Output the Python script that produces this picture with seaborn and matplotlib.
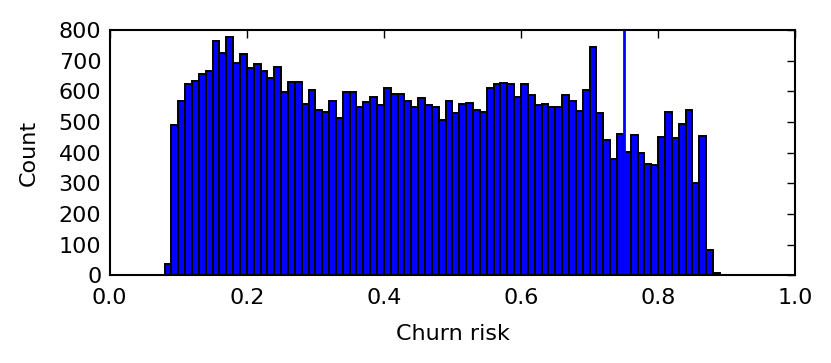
import numpy as np
import pandas as pd
import matplotlib
matplotlib.use("Agg")
import matplotlib.pyplot as plt
import seaborn as sns

bin_start = 0.08
bin_width = 0.01
counts = [37, 490, 568, 625, 633, 657, 665, 765, 725, 778,
          692, 723, 675, 690, 665, 645, 680, 598, 630, 632,
          558, 605, 540, 533, 570, 512, 597, 597, 550, 565,
          583, 555, 612, 592, 592, 567, 550, 578, 556, 550,
          508, 570, 528, 558, 563, 540, 533, 610, 625, 628,
          623, 583, 625, 587, 557, 560, 550, 550, 588, 568,
          537, 603, 745, 528, 440, 380, 460, 403, 457, 400,
          362, 360, 450, 532, 447, 495, 540, 300, 453, 83,
          7]
threshold = 0.75

centers = bin_start + bin_width * (np.arange(len(counts)) + 0.5)
df = pd.DataFrame({"risk": centers, "count": np.array(counts, dtype=float)})

sns.set_style("white")
plt.rcParams["font.family"] = ["DejaVu Sans"]
plt.rcParams["text.color"] = "black"
plt.rcParams["axes.labelcolor"] = "black"
plt.rcParams["xtick.color"] = "black"
plt.rcParams["ytick.color"] = "black"

fig = plt.figure(figsize=(8.31, 3.63), dpi=100)
ax = fig.add_axes([0.132, 0.242, 0.825, 0.675])
sns.histplot(data=df, x="risk", weights="count", binwidth=bin_width,
             binrange=(0, 1), ax=ax,
             color="blue", edgecolor="black", linewidth=1.4, alpha=1.0)
ax.axvline(threshold, color="blue", linewidth=2)

ax.set_xlim(0, 1)
ax.set_ylim(0, 800)
xt = np.arange(0, 1.01, 0.2)
ax.set_xticks(xt)
ax.set_yticks(np.arange(0, 801, 100))
ax.set_xticklabels([f"{v:.1f}" for v in xt])
ax.tick_params(direction="in", top=True, right=True, length=6, width=1,
               labelsize=16, colors="black")
ax.tick_params(axis="x", pad=9)
ax.tick_params(axis="y", pad=6)
for s in ax.spines.values():
    s.set_color("black")
    s.set_linewidth(1.5)
ax.set_xlabel("Churn risk", fontsize=16, labelpad=12, color="black")
ax.set_ylabel("Count", fontsize=16, labelpad=14, color="black")

fig.savefig("out.png", dpi=100, facecolor="white")
